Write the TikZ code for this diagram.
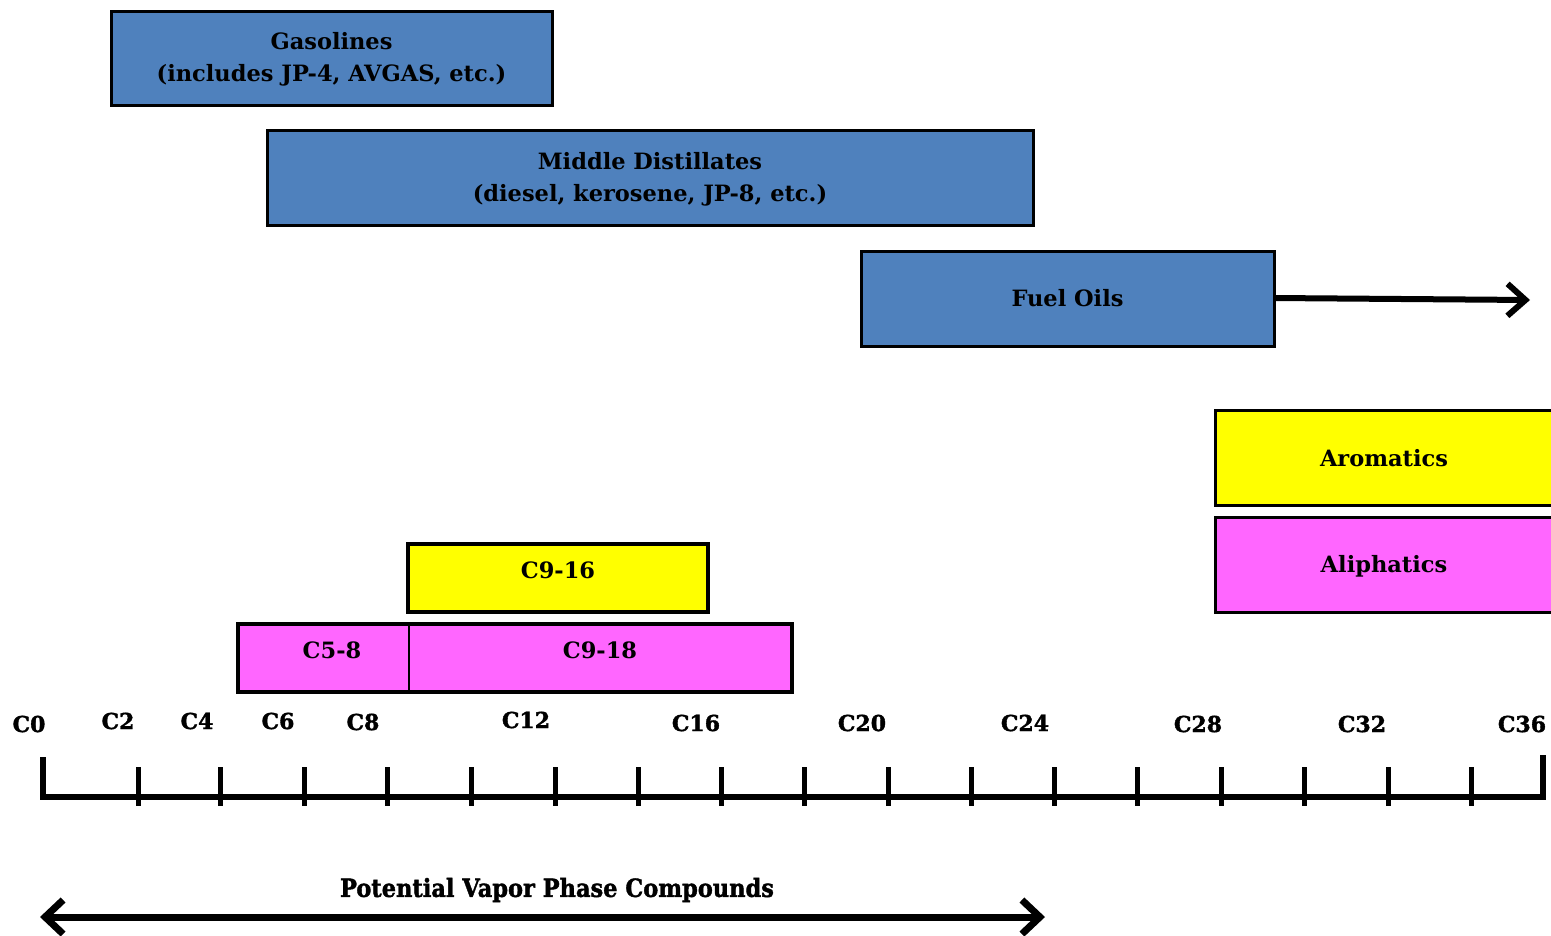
\documentclass[tikz,border=0pt]{standalone}
\usepackage{fontspec}
\setmainfont{DejaVu Serif}
\newfontfamily\heavyfont[FakeBold=1.6]{DejaVu Serif Bold}
\usetikzlibrary{arrows.meta}
\definecolor{fblue}{HTML}{4F81BD}
\definecolor{fyel}{HTML}{FFFF00}
\definecolor{fmag}{HTML}{FF66FF}
\tikzset{
  bx/.style={draw=black, line width=3pt, font=\bfseries\fontsize{22.5}{32}\selectfont, align=center, inner sep=0pt},
  ax/.style={line width=6pt, line cap=rect},
  tk/.style={line width=5pt},
  lbl/.style={font=\heavyfont\fontsize{22}{24}\selectfont, inner sep=0pt},
  barb/.style={-{Straight Barb[length=18pt,width=32pt,line width=6pt]}},
  dbarb/.style={{Straight Barb[length=18pt,width=34pt,line width=7pt]}-{Straight Barb[length=18pt,width=34pt,line width=7pt]}},
}
\begin{document}
\begin{tikzpicture}[x=1pt,y=-1pt]
\useasboundingbox (0,0) rectangle (1551,935);
% boxes
\path[bx, fill=fblue] (111,11) rectangle (552,105);
\node[bx, draw=none] (gas) at (331.5,59) {Gasolines\\(includes JP-4, AVGAS, etc.)};
\path[bx, fill=fblue] (267,130) rectangle (1033,225);
\node[bx, draw=none] (mid) at (650,179) {Middle Distillates\\(diesel, kerosene, JP-8, etc.)};
\path[bx, fill=fblue] (861,251) rectangle (1274,346);
\node[bx, draw=none] (fuel) at (1067.5,298.5) {Fuel Oils};
\coordinate (fuelE) at (1274,298);
\coordinate (fuelA) at (1530,300);
\draw[line width=6pt, barb] (fuelE) -- (fuelA);
\path[bx, fill=fyel] (1215,410) rectangle (1558,505);
\node[bx, draw=none] (aro) at (1384,458) {Aromatics};
\path[bx, fill=fmag] (1215,517) rectangle (1558,612);
\node[bx, draw=none] (ali) at (1384,566) {Aliphatics};
\path[bx, fill=fyel, line width=3.5pt] (408,544) rectangle (708,612);
\node[bx, draw=none] (c916) at (558,570) {C9-16};
\path[bx, fill=fmag, line width=3.5pt] (238,624) rectangle (792,692);
\draw[line width=2.5pt] (409,624) -- (409,692);
\node[bx, draw=none] (c58) at (332,650) {C5-8};
\node[bx, draw=none] (c918) at (600,650) {C9-18};
% axis
\draw[ax] (43,760) -- (43,797) -- (1543,797) -- (1543,758);
\foreach \x in {138,220,304,387,471,555,638,721,804,888,971,1054,1137,1221,1304,1388,1471}
  \draw[tk] (\x,767) -- (\x,806);
\foreach \t/\x/\y in {C0/29/724,C2/118/721,C4/197/721,C6/278/721,C8/363/722,C12/526/720,C16/696/723,C20/862/723,C24/1025/723,C28/1198/724,C32/1362/724,C36/1522/724}
  \node[lbl] (l\t) at (\x,\y) {\t};
% bottom arrow
\coordinate (vl) at (40,917);
\coordinate (vr) at (1045,917);
\draw[line width=7pt, dbarb] (vl) -- (vr);
\node[font=\heavyfont\fontsize{25}{28}\selectfont, inner sep=0pt, xscale=0.9] (vap) at (557,890) {Potential Vapor Phase Compounds};
\end{tikzpicture}
\end{document}
